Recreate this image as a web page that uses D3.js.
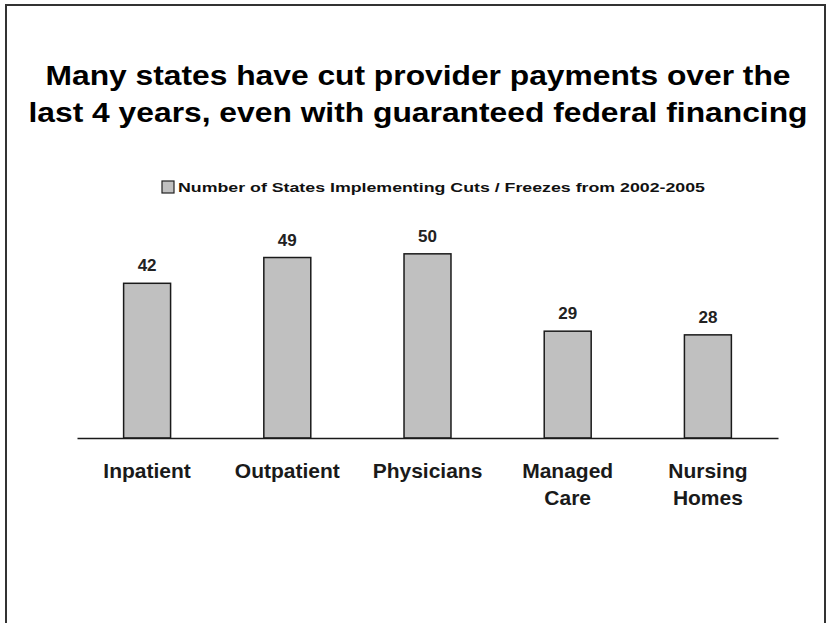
<!DOCTYPE html>
<html>
<head>
<meta charset="utf-8">
<script src="https://cdn.jsdelivr.net/npm/d3@7"></script>
<style>
  body { margin: 0; background: #fff; }
  svg { display: block; font-family: "Liberation Sans", Arial, sans-serif; }
</style>
</head>
<body>
<div id="chart"></div>
<script>
// data
const categories = ["Inpatient", "Outpatient", "Physicians", "Managed Care", "Nursing Homes"]
const categoryLines = [["Inpatient"], ["Outpatient"], ["Physicians"], ["Managed", "Care"], ["Nursing", "Homes"]]
const statesCutting = [42, 49, 50, 29, 28]
const seriesName = "Number of States Implementing Cuts / Freezes from 2002-2005"
const titleLines = ["Many states have cut provider payments over the",
                    "last 4 years, even with guaranteed federal financing"]

const width = 830
const height = 623
const baseline = 438

const svg = d3.select("#chart").append("svg")
  .attr("width", width)
  .attr("height", height)

// slide frame (bottom edge runs off the page)
svg.append("path")
  .attr("d", "M6,630 V5 H825 V630")
  .attr("fill", "none")
  .attr("stroke", "#333")
  .attr("stroke-width", 2)

// title
svg.append("g").selectAll("text")
  .data(titleLines).enter().append("text")
    .text(d => d)
    .attr("x", 418)
    .attr("y", (d, i) => 85 + i * 37)
    .attr("text-anchor", "middle")
    .attr("font-size", 28)
    .attr("font-weight", "bold")
    .attr("fill", "#000")
    .attr("textLength", (d, i) => i === 0 ? 745 : 779)
    .attr("lengthAdjust", "spacingAndGlyphs")

// legend
const legend = svg.append("g").attr("transform", "translate(162,181)")
legend.append("rect")
  .attr("width", 12)
  .attr("height", 12)
  .attr("fill", "#c0c0c0")
  .attr("stroke", "#222")
  .attr("stroke-width", 1.2)
legend.append("text")
  .text(seriesName)
  .attr("x", 16)
  .attr("y", 11)
  .attr("font-size", 13)
  .attr("font-weight", "bold")
  .attr("fill", "#111")
  .attr("textLength", 527)
  .attr("lengthAdjust", "spacingAndGlyphs")

// scales
const x = d3.scaleBand()
  .domain(categories)
  .range([77, 778])
  .paddingInner(0.665)
  .paddingOuter(0.3325)

const y = d3.scaleLinear()
  .domain([0, 60])
  .range([baseline, 217])

// bars
svg.append("g").selectAll("rect")
  .data(statesCutting).enter().append("rect")
    .attr("x", (d, i) => x(categories[i]))
    .attr("y", d => y(d))
    .attr("width", x.bandwidth())
    .attr("height", d => y(0) - y(d))
    .attr("fill", "#c0c0c0")
    .attr("stroke", "#1a1a1a")
    .attr("stroke-width", 1.5)

// value labels
svg.append("g").selectAll("text")
  .data(statesCutting).enter().append("text")
    .text(d => d)
    .attr("x", (d, i) => x(categories[i]) + x.bandwidth() / 2)
    .attr("y", d => y(d) - 12)
    .attr("text-anchor", "middle")
    .attr("font-size", 17)
    .attr("font-weight", "bold")
    .attr("fill", "#222")

// category axis
const xAxis = d3.axisBottom(x).tickSize(0).tickSizeOuter(0).tickFormat("")
const axisG = svg.append("g")
  .attr("transform", "translate(0," + baseline + ")")
  .call(xAxis)
axisG.select(".domain").attr("stroke", "#1a1a1a").attr("stroke-width", 1.5)

const labels = svg.append("g").selectAll("text")
  .data(categories).enter().append("text")
    .attr("x", d => x(d) + x.bandwidth() / 2)
    .attr("y", 478)
    .attr("text-anchor", "middle")
    .attr("font-size", 21)
    .attr("font-weight", "bold")
    .attr("fill", "#1a1a1a")

labels.selectAll("tspan")
  .data((d, i) => categoryLines[i]).enter().append("tspan")
    .text(d => d)
    .attr("x", function() { return this.parentNode.getAttribute("x") })
    .attr("dy", (d, i) => i === 0 ? 0 : 27)
</script>
</body>
</html>
